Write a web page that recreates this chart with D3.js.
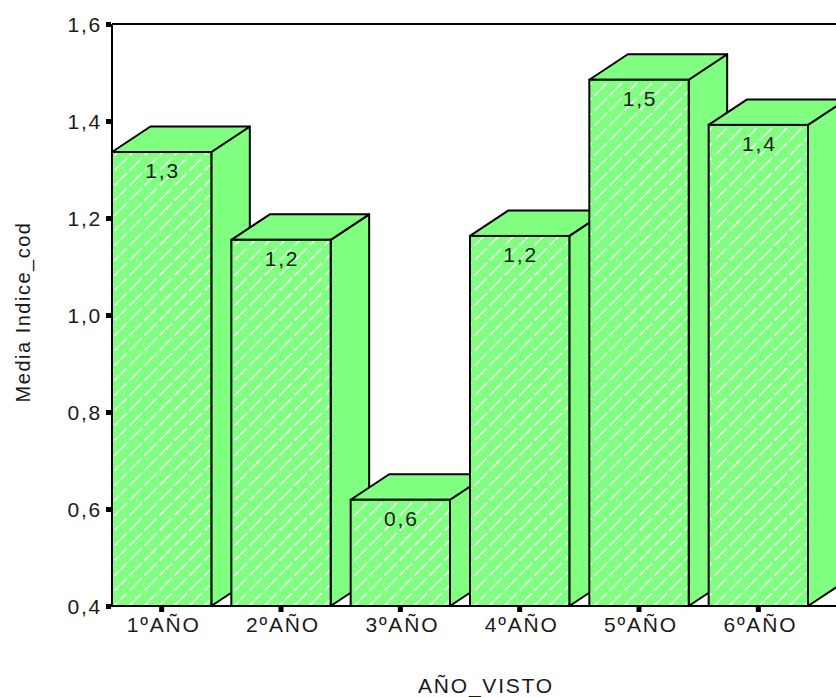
<!DOCTYPE html>
<html>
<head>
<meta charset="utf-8">
<script src="https://cdn.jsdelivr.net/npm/d3@7/dist/d3.min.js"></script>
<style>
  html, body { margin: 0; padding: 0; background: #ffffff; }
  svg { display: block; }
  text { font-family: "Liberation Sans", Arial, sans-serif; fill: #1a1a1a; }
</style>
</head>
<body>
<div id="chart"></div>
<script>
// Mean of Indice_cod by study year
const categories = ["1ºAÑO", "2ºAÑO", "3ºAÑO", "4ºAÑO", "5ºAÑO", "6ºAÑO"];
const means = [1.336, 1.155, 0.619, 1.163, 1.485, 1.392];
const yTicks = [0.4, 0.6, 0.8, 1.0, 1.2, 1.4, 1.6];
const yTitle = "Media Indice_cod";
const xTitle = "AÑO_VISTO";

const width = 836, height = 697;
const plot = { left: 112, top: 24, bottom: 606, right: 808 };
const depth = { dx: 38.5, dy: -25.5 };
const green = "#80ff80";
const fontSize = 21, spacing = 1.8;

const svg = d3.select("#chart").append("svg")
  .attr("width", width).attr("height", height);

// Diagonal dashed white hatching for the bar fronts
const defs = svg.append("defs");
const pat = defs.append("pattern")
  .attr("id", "hatch")
  .attr("patternUnits", "userSpaceOnUse")
  .attr("width", 15).attr("height", 15);
pat.append("rect").attr("width", 15).attr("height", 15).attr("fill", green);
pat.append("line")
  .attr("x1", -1).attr("y1", 16).attr("x2", 16).attr("y2", -1)
  .attr("stroke", "#ffffff").attr("stroke-opacity", 0.8)
  .attr("stroke-width", 1.7).attr("stroke-dasharray", "11 4");

const x = d3.scaleBand()
  .domain(categories)
  .range([plot.left, plot.right])
  .paddingInner(0.1676)
  .paddingOuter(0)
  .align(0);

const y = d3.scaleLinear()
  .domain([0.4, 1.6])
  .range([plot.bottom, plot.top]);

const comma = d3.formatLocale({ decimal: ",", thousands: ".", grouping: [3], currency: ["", ""] });
const fmt1 = comma.format(".1f");

// Frame: top border
svg.append("line")
  .attr("x1", plot.left).attr("x2", width + 20)
  .attr("y1", plot.top).attr("y2", plot.top)
  .attr("stroke", "#000").attr("stroke-width", 2);

// 3D bars, drawn left to right so each front hides the previous side
const bars = svg.append("g").selectAll("g.bar")
  .data(categories.map((c, i) => ({ c, v: means[i] })))
  .join("g").attr("class", "bar");

bars.each(function(d) {
  const g = d3.select(this);
  const x0 = x(d.c), x1 = x0 + x.bandwidth();
  const yt = y(d.v), yb = y(0.4);
  const { dx, dy } = depth;
  // side face
  g.append("path")
    .attr("d", `M${x1},${yt}L${x1 + dx},${yt + dy}L${x1 + dx},${yb + dy}L${x1},${yb}Z`)
    .attr("fill", green).attr("stroke", "#000").attr("stroke-width", 2)
    .attr("stroke-linejoin", "round");
  // top face
  g.append("path")
    .attr("d", `M${x0},${yt}L${x0 + dx},${yt + dy}L${x1 + dx},${yt + dy}L${x1},${yt}Z`)
    .attr("fill", green).attr("stroke", "#000").attr("stroke-width", 2)
    .attr("stroke-linejoin", "round");
  // front face
  g.append("rect")
    .attr("x", x0).attr("y", yt)
    .attr("width", x1 - x0).attr("height", yb - yt)
    .attr("fill", "url(#hatch)").attr("stroke", "#000").attr("stroke-width", 2);
  // value label
  g.append("text")
    .attr("x", (x0 + x1) / 2 + 1).attr("y", yt + 26)
    .attr("text-anchor", "middle")
    .attr("font-size", fontSize).attr("letter-spacing", spacing)
    .text(fmt1(d.v));
});

// Left axis line and baseline
svg.append("line")
  .attr("x1", plot.left).attr("x2", plot.left)
  .attr("y1", plot.top).attr("y2", plot.bottom)
  .attr("stroke", "#000").attr("stroke-width", 2);
svg.append("line")
  .attr("x1", plot.left - 5).attr("x2", width + 20)
  .attr("y1", plot.bottom).attr("y2", plot.bottom)
  .attr("stroke", "#000").attr("stroke-width", 2);

// Y axis
const yAxis = svg.append("g")
  .attr("transform", `translate(${plot.left - 10},0)`)
  .call(d3.axisLeft(y).tickValues(yTicks).tickFormat(fmt1).tickSize(0).tickPadding(0));
yAxis.select(".domain").remove();
yAxis.selectAll("text")
  .attr("font-family", "Liberation Sans, Arial, sans-serif")
  .attr("font-size", fontSize).attr("letter-spacing", spacing)
  .attr("fill", "#1a1a1a").attr("dy", "0.36em");
yAxis.selectAll(".tick").append("rect")
  .attr("x", 4).attr("y", -2.5).attr("width", 5).attr("height", 5).attr("fill", "#000");

// X axis
const xAxis = svg.append("g")
  .attr("transform", `translate(0,${plot.bottom})`)
  .call(d3.axisBottom(x).tickSize(0).tickPadding(0));
xAxis.select(".domain").remove();
xAxis.selectAll("text")
  .attr("font-family", "Liberation Sans, Arial, sans-serif")
  .attr("font-size", fontSize).attr("letter-spacing", spacing)
  .attr("fill", "#1a1a1a").attr("dy", 0).attr("y", 26).attr("x", 2);
xAxis.selectAll(".tick").append("rect")
  .attr("x", -2.5).attr("y", 1).attr("width", 5).attr("height", 5).attr("fill", "#000");

// Axis titles
svg.append("text")
  .attr("x", 486).attr("y", 693)
  .attr("text-anchor", "middle")
  .attr("font-size", fontSize).attr("letter-spacing", spacing)
  .text(xTitle);

svg.append("text")
  .attr("transform", "translate(30,312) rotate(-90)")
  .attr("text-anchor", "middle")
  .attr("font-size", 20).attr("letter-spacing", 1.5)
  .text(yTitle);
</script>
</body>
</html>
